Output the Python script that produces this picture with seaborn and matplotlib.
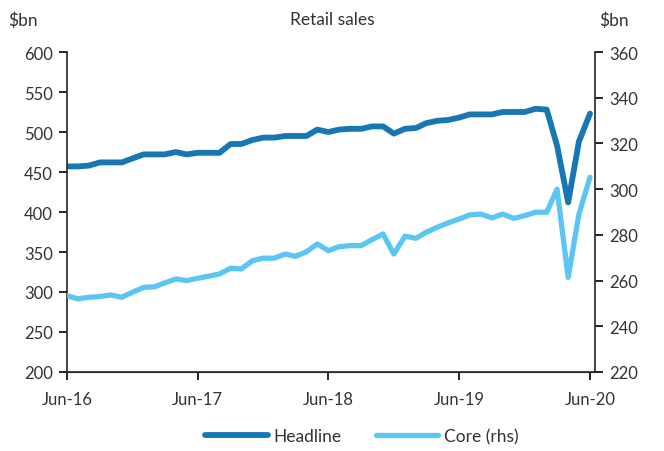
import pandas as pd
import numpy as np
import seaborn as sns
import matplotlib
matplotlib.use('Agg')
import matplotlib.pyplot as plt
import matplotlib.dates as mdates

# monthly, Jun-16 .. Jun-20
months = pd.date_range('2016-06-01', '2020-06-01', freq='MS')

headline = [457, 457, 458, 462, 462, 462, 467, 472, 472, 472,
            475, 472, 474, 474, 474, 485, 485, 490, 493, 493,
            495, 495, 495, 503, 500, 503, 504, 504, 507, 507,
            498, 504, 505, 511, 514, 515, 518, 522, 522, 522,
            525, 525, 525, 529, 528, 483, 412, 488, 523]

core = [253.4, 252.0, 252.7, 253.0, 253.7, 252.7, 254.9, 257.0, 257.3, 259.0,
        260.7, 260.0, 261.0, 261.9, 262.9, 265.4, 265.1, 268.7, 269.8, 269.8,
        271.6, 270.6, 272.6, 276.0, 273.1, 274.8, 275.3, 275.3, 277.9, 280.4,
        271.6, 279.4, 278.5, 281.1, 283.3, 285.2, 286.9, 288.7, 289.1, 287.4,
        289.1, 287.2, 288.4, 289.9, 289.9, 300.0, 261.4, 289.0, 305.2]

tick_dates = pd.to_datetime(['2016-06-01', '2017-06-01', '2018-06-01', '2019-06-01', '2020-06-01'])
tick_labels = ['Jun-16', 'Jun-17', 'Jun-18', 'Jun-19', 'Jun-20']

df = pd.DataFrame({'Month': months, 'Headline': headline, 'Core': core})

sns.set_style('ticks')
plt.rcParams['font.family'] = ['Lato', 'DejaVu Sans']

dark = '#1777b3'
light = '#5cc6f3'
txt = '#333333'

fig = plt.figure(figsize=(6.64, 4.52), dpi=100)
ax = fig.add_axes([0.1009, 0.1748, 0.7952, 0.7079])
ax2 = ax.twinx()

sns.lineplot(data=df, x='Month', y='Headline', ax=ax, color=dark, linewidth=4.2, label='Headline', legend=False)
sns.lineplot(data=df, x='Month', y='Core', ax=ax2, color=light, linewidth=3.8, label='Core (rhs)', legend=False)

ax.set_ylim(200, 600)
ax.set_yticks(np.arange(200, 601, 50))
ax2.set_ylim(220, 360)
ax2.set_yticks(np.arange(220, 361, 20))
ax.set_xlim(pd.Timestamp('2016-06-01'), pd.Timestamp('2020-06-15'))
ax.set_xticks(tick_dates)
ax.set_xticklabels(tick_labels)

for a in (ax, ax2):
    a.set_xlabel('')
    a.set_ylabel('')
    a.spines['top'].set_visible(False)
    a.tick_params(axis='both', direction='out', length=6, width=1.2, colors='black',
                  labelsize=12, labelcolor=txt, pad=4)
ax.tick_params(axis='x', pad=8)
ax.spines['right'].set_visible(False)
ax2.spines['left'].set_visible(False)
ax2.spines['right'].set_linewidth(1.2)
ax.spines['left'].set_linewidth(1.2)
ax.spines['bottom'].set_linewidth(1.2)

fig.text(0.5, 0.955, 'Retail sales', ha='center', va='center', fontsize=12.5, color=txt)
fig.text(0.012, 0.955, '$bn', ha='left', va='center', fontsize=12.5, color=txt)
fig.text(0.903, 0.955, '$bn', ha='left', va='center', fontsize=12.5, color=txt)

h1, l1 = ax.get_legend_handles_labels()
h2, l2 = ax2.get_legend_handles_labels()
leg = fig.legend(h1 + h2, l1 + l2, loc='center', bbox_to_anchor=(0.545, 0.033), ncol=2,
                 frameon=False, fontsize=12.5, handlelength=3.6, handletextpad=0.3,
                 columnspacing=2.0, labelcolor=txt)
for ln in leg.get_lines():
    ln.set_solid_capstyle('round')

fig.savefig('out.png', dpi=100)
